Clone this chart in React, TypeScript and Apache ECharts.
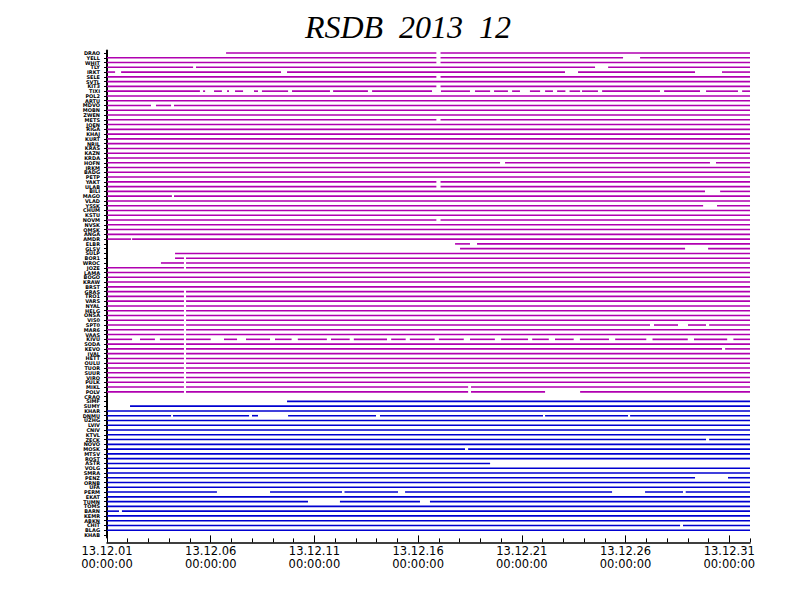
import React, { useEffect, useRef } from "react";
import * as echarts from "echarts";

// Station labels (top to bottom)
const stationLabels = [
  "DRAO","YELL","WHIT","TLY","IRKT","SELE","SVTL","KIT3","TIXI","POL2",
  "ARTU","MDVO","MOBN","ZWEN","METS","JOEN","RIGA","KHAJ","KURT","NRIL",
  "KRAS","KAZN","KRDA","HOFN","IRKM","BADG","PETP","YAKT","ULAB","BILI",
  "MAGO","VLAD","YSSK","CHUM","KSTU","NOVM","NVSK","OMSK","ANGA","AMDR",
  "ELBR","GLSV","SULP","BOR1","WROC","JOZE","LAMA","BOGO","KRAW","BRST",
  "GRAS","TRO1","VARS","NYAL","HELG","ONSA","VIS0","SPT0","MAR6","VAAS",
  "KIVU","SODA","KEVO","IVAL","HETT","OULU","TUOR","SUUR","VIRO","PULK",
  "MIKL","POLV","CRAO","SIMF","SUMY","KHAR","DNMU","UZHG","LVIV","CNIV",
  "KTVL","ZECK","NOVO","MOSK","MTSV","ROST","ASTR","VOLG","SMRA","PENZ",
  "ORNB","UFA","PERM","EKAT","TUMN","TOMS","BARN","KEMR","ABKN","CHIT",
  "BLAG","KHAB",
];

// Day ticks (days since 2013-12-01 00:00)
const majorDays = [0, 5, 10, 15, 20, 25, 30];

// Coverage segments [start day, end day] per station, group 1 (magenta), rows 0..73
const magentaCoverage: number[][][] = [
  [[5.74, 15.88], [16.08, 31]],
  [[0, 15.88], [16.08, 24.88], [25.7, 31]],
  [[0, 15.88], [16.08, 31]],
  [[0, 4.15], [4.29, 23.53], [24.16, 31]],
  [[0, 0.39], [0.68, 8.39], [8.68, 22.08], [22.71, 28.35], [29.65, 31]],
  [[0, 15.88], [16.08, 31]],
  [[0, 31]],
  [[0, 15.88], [16.08, 31]],
  [[0, 4.48], [4.63, 4.73], [5.16, 5.54], [5.79, 5.88], [6.17, 6.56], [7.09, 7.28], [7.47, 8.73], [8.92, 10.75], [10.9, 12.58], [12.78, 15.67], [16.1, 17.5], [17.74, 18.47], [18.66, 19.33], [19.53, 19.91], [20.39, 20.88], [21.12, 21.5], [21.7, 22.1], [22.3, 22.81], [22.9, 23.67], [23.87, 26.66], [26.86, 28.59], [28.88, 30.42], [30.62, 31]],
  [[0, 31]],
  [[0, 31]],
  [[0, 2.12], [2.36, 3.09], [3.23, 31]],
  [[0, 31]],
  [[0, 31]],
  [[0, 15.88], [16.08, 31]],
  [[0, 31]],
  [[0, 31]],
  [[0, 31]],
  [[0, 31]],
  [[0, 31]],
  [[0, 31]],
  [[0, 31]],
  [[0, 31]],
  [[0, 18.95], [19.19, 29.07], [29.36, 31]],
  [[0, 31]],
  [[0, 31]],
  [[0, 31]],
  [[0, 15.88], [16.08, 31]],
  [[0, 15.88], [16.08, 31]],
  [[0, 28.83], [29.56, 31]],
  [[0, 3.13], [3.23, 31]],
  [[0, 31]],
  [[0, 28.74], [29.41, 31]],
  [[0, 31]],
  [[0, 31]],
  [[0, 15.88], [16.08, 31]],
  [[0, 31]],
  [[0, 31]],
  [[0, 31]],
  [[0, 1.16], [1.21, 31]],
  [[16.78, 17.5], [17.84, 31]],
  [[17.02, 27.87], [28.98, 31]],
  [[3.28, 31]],
  [[3.28, 3.71], [3.81, 31]],
  [[2.6, 3.71], [3.81, 31]],
  [[0, 3.71], [3.81, 31]],
  [[0, 31]],
  [[0, 31]],
  [[0, 31]],
  [[0, 31]],
  [[0, 3.71], [3.81, 31]],
  [[0, 3.71], [3.81, 31]],
  [[0, 3.71], [3.81, 31]],
  [[0, 3.71], [3.81, 31]],
  [[0, 3.71], [3.81, 31]],
  [[0, 3.71], [3.81, 31]],
  [[0, 3.71], [3.81, 31]],
  [[0, 3.71], [3.81, 26.18], [26.37, 27.53], [28.01, 28.88], [29.03, 31]],
  [[0, 3.71], [3.81, 31]],
  [[0, 3.71], [3.81, 31]],
  [[0, 1.21], [1.59, 2.31], [2.55, 3.71], [3.81, 5.0], [5.64, 6.27], [6.7, 7.86], [8.1, 8.9], [9.2, 10.6], [10.8, 11.7], [11.9, 13.5], [13.7, 14.4], [14.6, 15.8], [16.0, 17.2], [17.5, 18.7], [19.0, 20.3], [20.5, 21.3], [21.6, 22.5], [22.8, 24.2], [24.5, 26.0], [26.3, 28.0], [28.3, 29.9], [30.2, 31]],
  [[0, 3.71], [3.81, 31]],
  [[0, 3.71], [3.81, 29.65], [29.8, 31]],
  [[0, 3.71], [3.81, 31]],
  [[0, 3.71], [3.81, 31]],
  [[0, 3.71], [3.81, 31]],
  [[0, 3.71], [3.81, 31]],
  [[0, 3.71], [3.81, 31]],
  [[0, 3.71], [3.81, 31]],
  [[0, 3.71], [3.81, 31]],
  [[0, 3.71], [3.81, 17.41], [17.55, 31]],
  [[0, 3.71], [3.81, 17.41], [17.55, 21.12], [22.81, 31]],
  [],
];

// group 2 (blue), rows 74..101
const blueCoverage: number[][][] = [
  [[8.68, 31]],
  [[1.11, 31]],
  [[0, 31]],
  [[0, 3.09], [3.18, 6.85], [6.99, 7.28], [8.73, 12.97], [13.16, 21.02], [21.12, 25.12], [25.22, 31]],
  [[0, 31]],
  [[0, 31]],
  [[0, 31]],
  [[0, 31]],
  [[0, 28.88], [29.03, 31]],
  [[0, 31]],
  [[0, 17.26], [17.41, 31]],
  [[0, 31]],
  [[0, 31]],
  [[0, 18.47]],
  [[0, 31]],
  [[0, 31]],
  [[0, 28.35], [29.94, 31]],
  [[0, 31]],
  [[0, 31]],
  [[0, 5.3], [7.86, 11.33], [11.45, 14.03], [14.37, 24.35], [25.94, 27.77], [27.9, 31]],
  [[0, 31]],
  [[0, 9.69], [11.23, 15.09], [15.57, 31]],
  [[0, 31]],
  [[0, 0.58], [0.72, 31]],
  [[0, 31]],
  [[0, 31]],
  [[0, 27.63], [27.77, 31]],
  [[0, 31]],
];

const MAGENTA = "#b000b0";
const BLUE = "#0000d0";

function toSegments(cov: number[][][], rowOffset: number) {
  const out: number[][] = [];
  cov.forEach((segs, i) => {
    segs.forEach(([s, e]) => out.push([i + rowOffset, s, e]));
  });
  return out;
}

function pad(n: number) {
  return n < 10 ? "0" + n : String(n);
}

export default function App() {
  const ref = useRef<HTMLDivElement>(null);
  useEffect(() => {
    if (!ref.current) return;
    const chart = echarts.init(ref.current, undefined, { renderer: "svg" });
    const makeRender = (color: string) => (params: any, api: any) => {
      const row = api.value(0);
      const p1 = api.coord([api.value(1), row]);
      const p2 = api.coord([api.value(2), row]);
      return {
        type: "line",
        shape: { x1: p1[0], y1: p1[1], x2: p2[0], y2: p2[1] },
        style: { stroke: color, lineWidth: 1.6 },
      };
    };
    chart.setOption({
      animation: false,
      backgroundColor: "#ffffff",
      graphic: [
        {
          type: "text",
          x: 408,
          y: 11,
          style: {
            text: "RSDB  2013  12",
            font: 'italic 32px "Liberation Serif"',
            fill: "#000",
            textAlign: "center",
            textVerticalAlign: "top",
          },
        },
      ],
      grid: { left: 107, right: 42, top: 50.6, bottom: 74.6, containLabel: false },
      xAxis: [
        {
          type: "value",
          position: "bottom",
          offset: 5,
          min: 0,
          max: 31,
          interval: 5,
          splitLine: { show: false },
          axisLine: { show: true, lineStyle: { color: "#000", width: 1.5 } },
          axisTick: {
            show: true,
            inside: true,
            length: 7,
            customValues: majorDays,
            lineStyle: { color: "#000", width: 1 },
          },
          axisLabel: {
            customValues: majorDays,
            margin: 2,
            color: "#000",
            fontFamily: "DejaVu Sans",
            fontSize: 11.5,
            lineHeight: 13,
            formatter: (v: number) => `13.12.${pad(Math.round(v) + 1)}\n00:00:00`,
          },
        },
        {
          type: "value",
          position: "bottom",
          offset: 5,
          min: 0,
          max: 31,
          interval: 1,
          splitLine: { show: false },
          axisLine: { show: false },
          axisTick: { show: true, inside: true, length: 4, lineStyle: { color: "#000", width: 1 } },
          axisLabel: { show: false },
        },
      ],
      yAxis: {
        type: "category",
        inverse: true,
        data: stationLabels,
        offset: 5,
        axisLine: { show: true, lineStyle: { color: "#000", width: 2 } },
        axisTick: { show: true, interval: 0, alignWithLabel: true, length: 3, lineStyle: { color: "#000" } },
        axisLabel: {
          interval: 0,
          margin: 2,
          color: "#000",
          fontFamily: "DejaVu Sans",
          fontWeight: "bold",
          fontSize: 5,
        },
        splitLine: { show: false },
      },
      series: [
        {
          type: "custom",
          xAxisIndex: 0,
          renderItem: makeRender(MAGENTA),
          encode: { x: [1, 2], y: 0 },
          data: toSegments(magentaCoverage, 0),
        },
        {
          type: "custom",
          xAxisIndex: 0,
          renderItem: makeRender(BLUE),
          encode: { x: [1, 2], y: 0 },
          data: toSegments(blueCoverage, magentaCoverage.length),
        },
      ],
    });
    return () => chart.dispose();
  }, []);
  return (
    <div
      ref={ref}
      style={{ position: "fixed", left: 0, top: 0, width: 792, height: 612, background: "#fff" }}
    />
  );
}
